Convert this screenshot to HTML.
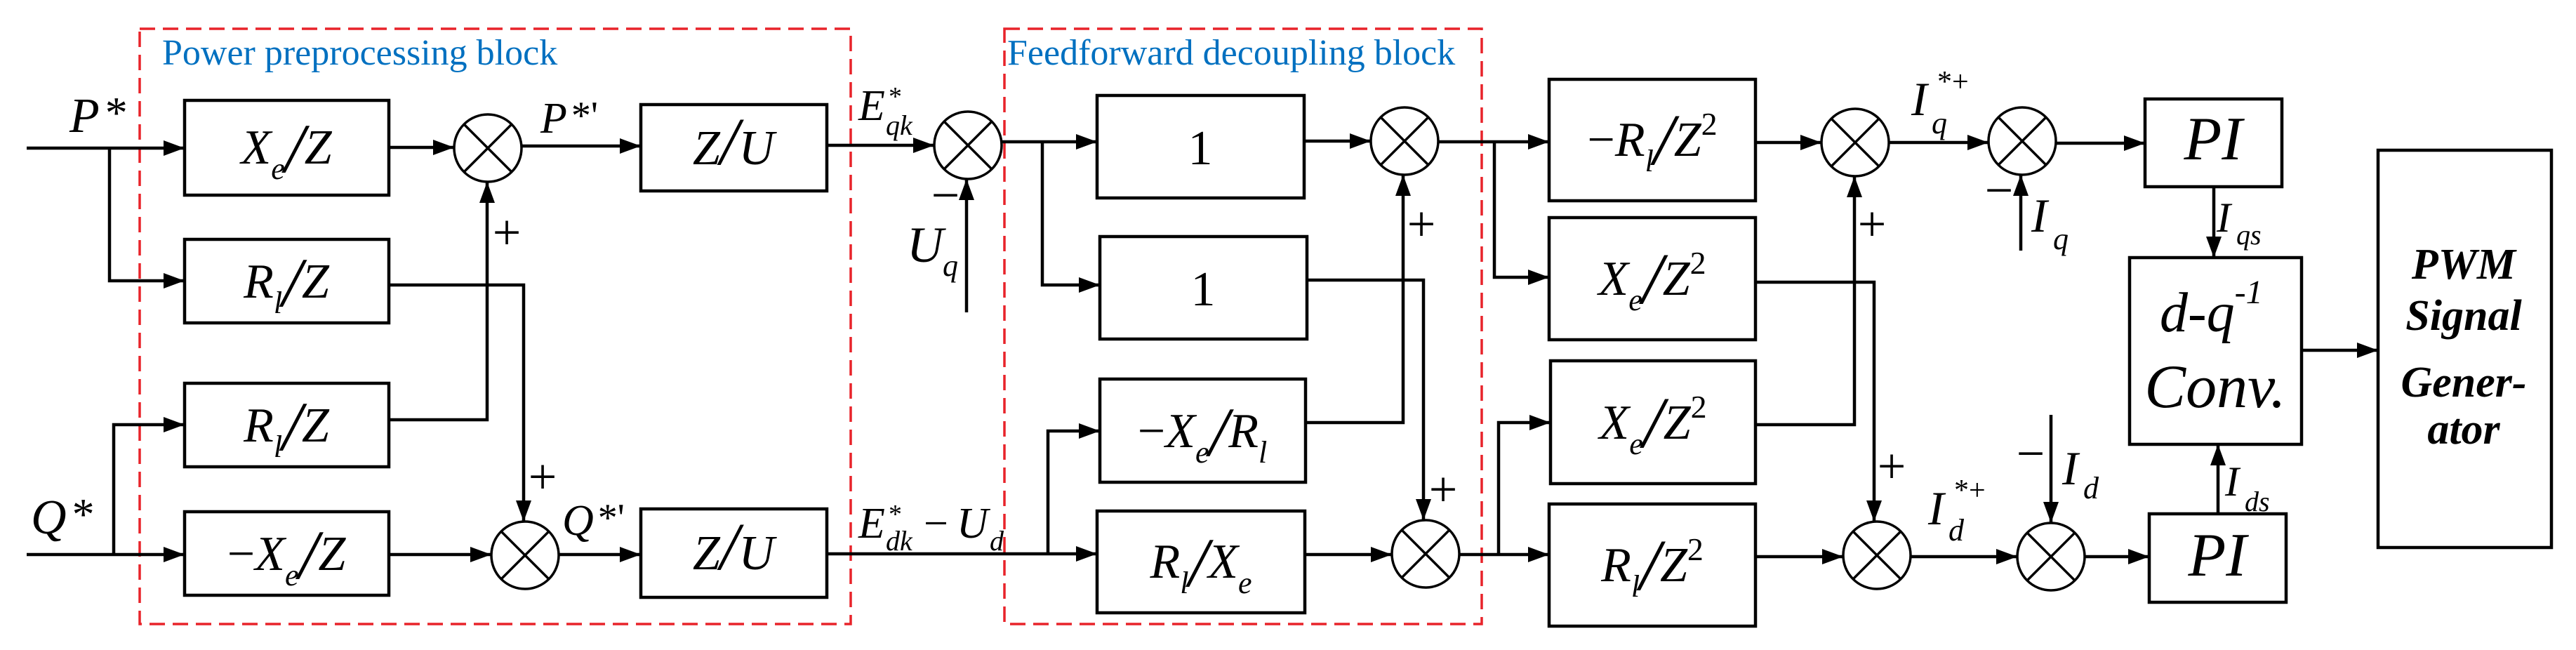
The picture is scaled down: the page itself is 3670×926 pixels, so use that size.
<!DOCTYPE html>
<html><head><meta charset="utf-8"><style>
html,body{margin:0;padding:0;background:#fff;}
svg{display:block;font-family:"Times New Roman","Liberation Serif","DejaVu Serif",serif;}
svg text{font-family:"Times New Roman","Liberation Serif","DejaVu Serif",serif;font-style:italic;fill:#000;}
svg text.r, svg tspan.r{font-style:normal;}
svg text.blue{fill:#0070c0;font-style:normal;font-size:52px;}
</style></head><body>
<svg width="3670" height="926" viewBox="0 0 3670 926" xmlns="http://www.w3.org/2000/svg" font-family="Times New Roman, Liberation Serif, DejaVu Serif, serif">
<defs>
<marker id="a" markerUnits="userSpaceOnUse" markerWidth="30" markerHeight="24" refX="29" refY="12" orient="auto">
<path d="M0,1 L30,12 L0,23z" fill="#000"/>
</marker>
<g id="s"><circle cx="0" cy="0" r="48"/><path d="M-34,-34 L34,34 M34,-34 L-34,34"/></g>
</defs>
<g fill="none" stroke="#e8232a" stroke-width="3.5" stroke-dasharray="22,11">
<rect x="199" y="41" width="1013" height="848"/>
<rect x="1431" y="41" width="680" height="848"/>
</g>
<text class="blue" x="231" y="92">Power preprocessing block</text>
<text class="blue" x="1435" y="92">Feedforward decoupling block</text>

<g fill="none" stroke="#000" stroke-width="4.5">
<rect x="263" y="143" width="291" height="135"/>
<rect x="263" y="341" width="291" height="119"/>
<rect x="263" y="546" width="291" height="119"/>
<rect x="263" y="729" width="291" height="119"/>
<rect x="913" y="149" width="265" height="123"/>
<rect x="913" y="725" width="265" height="126"/>
<rect x="1563" y="136" width="295" height="146"/>
<rect x="1567" y="337" width="295" height="146"/>
<rect x="1567" y="540" width="293" height="147"/>
<rect x="1563" y="728" width="296" height="145"/>
<rect x="2207" y="113" width="294" height="173"/>
<rect x="2207" y="310" width="294" height="174"/>
<rect x="2209" y="514" width="292" height="175"/>
<rect x="2207" y="718" width="294" height="174"/>
<rect x="3056" y="141" width="195" height="125"/>
<rect x="3034" y="367" width="245" height="266"/>
<rect x="3062" y="732" width="195" height="126"/>
<rect x="3388" y="214" width="247" height="566"/>
</g>

<g fill="none" stroke="#000" stroke-width="3.5">
<use href="#s" x="695" y="211"/>
<use href="#s" x="748" y="791"/>
<use href="#s" x="1379" y="207"/>
<use href="#s" x="2001" y="201"/>
<use href="#s" x="2031" y="789"/>
<use href="#s" x="2643" y="203"/>
<use href="#s" x="2881" y="201"/>
<use href="#s" x="2674" y="791"/>
<use href="#s" x="2922" y="793"/>
</g>

<g fill="none" stroke="#000" stroke-width="4.5" marker-end="url(#a)">
<path d="M38,211 H262"/>
<path d="M156,211 V400 H262"/>
<path d="M554,210 H646"/>
<path d="M743,208 H912"/>
<path d="M554,406 H746 V742"/>
<path d="M554,598 H694 V260"/>
<path d="M38,790 H262"/>
<path d="M162,790 V605 H262"/>
<path d="M554,790 H699"/>
<path d="M796,790 H912"/>
<path d="M1178,207 H1330"/>
<path d="M1377,445 V256"/>
<path d="M1427,202 H1562"/>
<path d="M1485,202 V406 H1566"/>
<path d="M1858,201 H1952"/>
<path d="M1860,602 H1999 V250"/>
<path d="M1862,399 H2028 V740"/>
<path d="M1178,789 H1562"/>
<path d="M1493,789 V614 H1566"/>
<path d="M1859,790 H1982"/>
<path d="M2049,202 H2206"/>
<path d="M2129,202 V395 H2206"/>
<path d="M2079,790 H2206"/>
<path d="M2135,790 V602 H2208"/>
<path d="M2501,203 H2594"/>
<path d="M2501,402 H2670 V742"/>
<path d="M2501,605 H2642 V252"/>
<path d="M2501,793 H2625"/>
<path d="M2691,203 H2832"/>
<path d="M2879,357 V250"/>
<path d="M2929,204 H3055"/>
<path d="M3154,266 V366"/>
<path d="M3279,499 H3387"/>
<path d="M2722,793 H2873"/>
<path d="M2922,591 V744"/>
<path d="M2970,793 H3061"/>
<path d="M3160,732 V634"/>
</g>

<g font-size="70" text-anchor="middle">
<text x="408" y="233">X<tspan font-size="44" dy="22">e</tspan><tspan font-size="100" dy="-10">/</tspan><tspan dy="-12">Z</tspan></text>
<text x="408" y="424">R<tspan font-size="44" dy="22">l</tspan><tspan font-size="100" dy="-10">/</tspan><tspan dy="-12">Z</tspan></text>
<text x="408" y="629">R<tspan font-size="44" dy="22">l</tspan><tspan font-size="100" dy="-10">/</tspan><tspan dy="-12">Z</tspan></text>
<text x="408" y="812"><tspan class="r">−</tspan>X<tspan font-size="44" dy="22">e</tspan><tspan font-size="100" dy="-10">/</tspan><tspan dy="-12">Z</tspan></text>
<text x="1045" y="234">Z<tspan font-size="96">/</tspan>U</text>
<text x="1045" y="811">Z<tspan font-size="96">/</tspan>U</text>
<text class="r" x="1710" y="234">1</text>
<text class="r" x="1714" y="435">1</text>
<text x="1713" y="637"><tspan class="r">−</tspan>X<tspan font-size="44" dy="22">e</tspan><tspan font-size="100" dy="-10">/</tspan><tspan dy="-12">R</tspan><tspan font-size="44" dy="22">l</tspan></text>
<text x="1711" y="823">R<tspan font-size="44" dy="22">l</tspan><tspan font-size="100" dy="-10">/</tspan><tspan dy="-12">X</tspan><tspan font-size="44" dy="22">e</tspan></text>
<text x="2354" y="222"><tspan class="r">−</tspan>R<tspan font-size="44" dy="22">l</tspan><tspan font-size="104" dy="-10">/</tspan><tspan dy="-12">Z</tspan><tspan class="r" font-size="46" dy="-30">2</tspan></text>
<text x="2354" y="420">X<tspan font-size="44" dy="22">e</tspan><tspan font-size="104" dy="-10">/</tspan><tspan dy="-12">Z</tspan><tspan class="r" font-size="46" dy="-30">2</tspan></text>
<text x="2355" y="625">X<tspan font-size="44" dy="22">e</tspan><tspan font-size="104" dy="-10">/</tspan><tspan dy="-12">Z</tspan><tspan class="r" font-size="46" dy="-30">2</tspan></text>
<text x="2354" y="828">R<tspan font-size="44" dy="22">l</tspan><tspan font-size="104" dy="-10">/</tspan><tspan dy="-12">Z</tspan><tspan class="r" font-size="46" dy="-30">2</tspan></text>
</g>
<g font-size="88" text-anchor="middle">
<text x="3153" y="227">PI</text>
<text x="3159" y="820">PI</text>
</g>
<text x="3077" y="472" font-size="80">d-q<tspan font-size="48" dy="-40">-1</tspan></text>
<text x="3156" y="580" font-size="88" text-anchor="middle">Conv.</text>
<g font-size="62" font-weight="bold" text-anchor="middle">
<text x="3510" y="397">PWM</text>
<text x="3510" y="470">Signal</text>
<text x="3510" y="565">Gener-</text>
<text x="3510" y="632">ator</text>
</g>

<text x="99" y="188" font-size="70">P<tspan class="r" font-size="64" dx="8" dy="-6">*</tspan></text>
<text x="44" y="760" font-size="70">Q<tspan class="r" font-size="64" dx="8" dy="-6">*</tspan></text>
<text x="770" y="189" font-size="62">P<tspan class="r" font-size="56" dx="6" dy="-6">*'</tspan></text>
<text x="801" y="762" font-size="62">Q<tspan class="r" font-size="56" dx="6" dy="-6">*'</tspan></text>
<g font-size="72" text-anchor="middle">
<text class="r" x="722" y="355">+</text>
<text class="r" x="773" y="703">+</text>
<text class="r" x="2025" y="343">+</text>
<text class="r" x="2056" y="721">+</text>
<text class="r" x="2667" y="343">+</text>
<text class="r" x="2695" y="688">+</text>
<text class="r" x="1347" y="302">−</text>
<text class="r" x="2848" y="295">−</text>
<text class="r" x="2893" y="670">−</text>
</g>
<text x="1223" y="171" font-size="62">E</text>
<text class="r" x="1266" y="150" font-size="38">*</text>
<text x="1262" y="192" font-size="40">qk</text>
<text x="1292" y="373" font-size="72">U</text>
<text x="1343" y="393" font-size="44">q</text>
<text x="1223" y="766" font-size="62">E</text>
<text class="r" x="1266" y="745" font-size="38">*</text>
<text x="1262" y="784" font-size="40">dk</text>
<text class="r" x="1316" y="766" font-size="62">−</text>
<text x="1363" y="766" font-size="62">U</text>
<text x="1410" y="784" font-size="40">d</text>
<text x="2723" y="164" font-size="68">I</text>
<text class="r" x="2760" y="130" font-size="42">*+</text>
<text x="2752" y="190" font-size="44">q</text>
<text x="2894" y="330" font-size="68">I</text>
<text x="2925" y="355" font-size="44">q</text>
<text x="3158" y="330" font-size="60">I</text>
<text x="3186" y="348" font-size="40">qs</text>
<text x="2747" y="747" font-size="68">I</text>
<text class="r" x="2784" y="712" font-size="42">*+</text>
<text x="2776" y="770" font-size="44">d</text>
<text x="2938" y="690" font-size="68">I</text>
<text x="2968" y="710" font-size="44">d</text>
<text x="3170" y="706" font-size="60">I</text>
<text x="3198" y="728" font-size="40">ds</text>
</svg>
</body></html>
